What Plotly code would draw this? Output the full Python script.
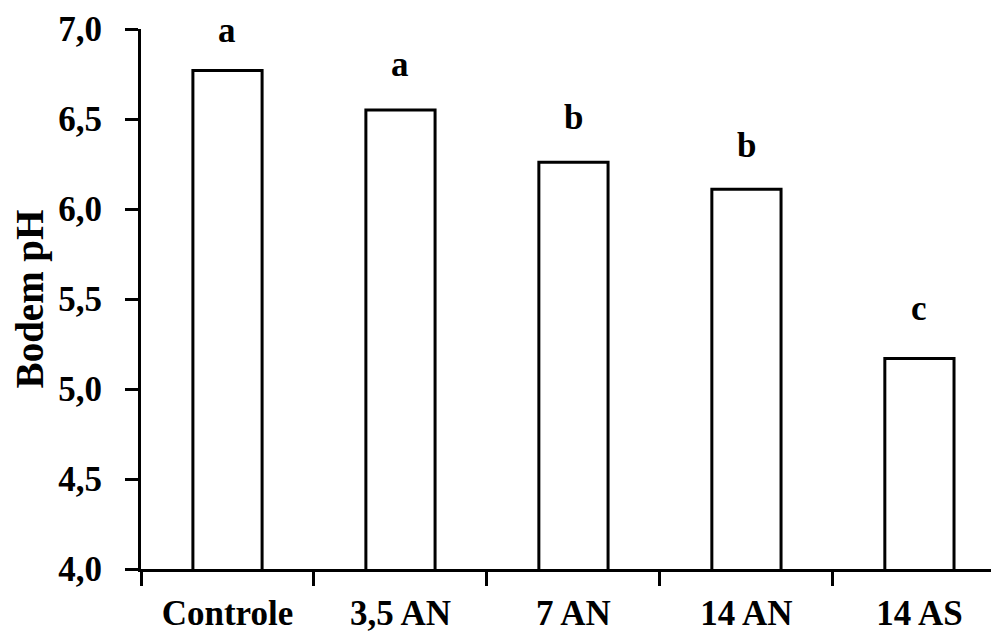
import plotly.graph_objects as go

categories = ["Controle", "3,5 AN", "7 AN", "14 AN", "14 AS"]
ph_values = [6.77, 6.55, 6.26, 6.11, 5.17]
letters = ["a", "a", "b", "b", "c"]
y_ticks = [4.0, 4.5, 5.0, 5.5, 6.0, 6.5, 7.0]
y_tick_labels = ["4,0", "4,5", "5,0", "5,5", "6,0", "6,5", "7,0"]

# pixel lift of each significance letter above its bar (style)
letter_lift = [40, 46, 45, 44, 50]

FONT = "Liberation Serif"

fig = go.Figure()
fig.add_trace(go.Bar(
    x=categories, y=ph_values,
    width=0.40,
    marker=dict(color="white", line=dict(color="black", width=3)),
))

for c, v, t, dy in zip(categories, ph_values, letters, letter_lift):
    fig.add_annotation(x=c, y=v, text=f"<b>{t}</b>", showarrow=False,
                       yshift=dy, borderpad=0,
                       font=dict(family=FONT, size=35, color="black"))

# page body has an 8px margin; compensate so the plot area lands where the reference has it
fig.update_layout(
    width=999, height=641,
    margin=dict(l=133, r=8, t=21, b=80),
    paper_bgcolor="white", plot_bgcolor="white",
    showlegend=False,
    font=dict(family=FONT, color="black"),
)
fig.update_xaxes(
    type="category", range=[-0.5, 4.46], automargin=False,
    showline=True, linecolor="black", linewidth=3,
    ticks="outside", ticklen=14, tickwidth=3, tickcolor="black",
    tickson="boundaries",
    tickfont=dict(family=FONT, size=35, color="black"),
    ticklabelstandoff=11,
    tickvals=categories, ticktext=[f"<b>{c}</b>" for c in categories],
    showgrid=False, zeroline=False,
)
fig.update_yaxes(
    range=[4, 7], automargin=False,
    showline=True, linecolor="black", linewidth=3,
    ticks="outside", ticklen=13, tickwidth=3, tickcolor="black",
    tickvals=y_ticks, ticktext=[f"<b>{t}</b>" for t in y_tick_labels],
    tickfont=dict(family=FONT, size=35, color="black"),
    ticklabelstandoff=16,
    title=dict(text="<b>Bodem pH</b>", font=dict(family=FONT, size=39, color="black"), standoff=8),
    showgrid=False, zeroline=False,
)

fig.write_html("out.html")
